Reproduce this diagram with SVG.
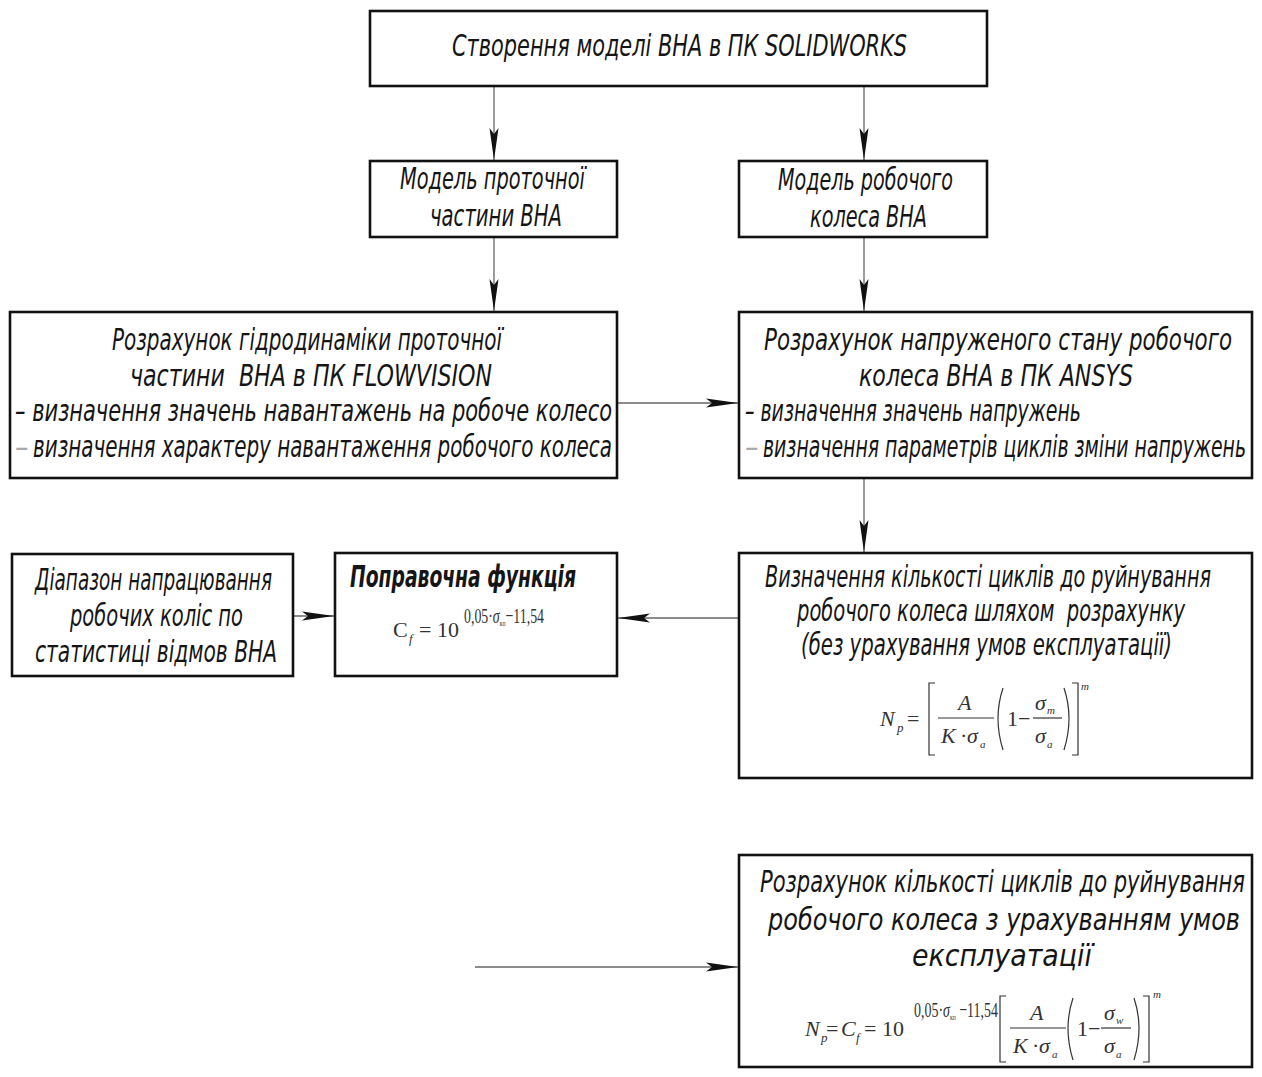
<svg xmlns="http://www.w3.org/2000/svg" width="1262" height="1077" viewBox="0 0 1262 1077">
<defs>
<style>
.box{fill:#fff;stroke:#111;stroke-width:2.6}
.con{fill:none;stroke:#666;stroke-width:1.3}
.t{font-family:"DejaVu Sans Condensed","DejaVu Sans",sans-serif;font-style:italic;font-size:30px;fill:#151515;white-space:pre}
.tb{font-weight:bold}
.f{font-family:"Liberation Serif","Times New Roman",serif;fill:#333;font-size:22px}
.fi{font-style:italic}
.fs{font-size:13px}
.fx{font-size:11px}
.fl{fill:none;stroke:#333;stroke-width:1.2}
.dim{fill:#aaa}
</style>
<marker id="ah" viewBox="-33 -6 34 12" refX="0" refY="0" markerWidth="34" markerHeight="12" markerUnits="userSpaceOnUse" orient="auto">
<path d="M0,0 L-32,-4.5 L-26,0 L-32,4.5 Z" fill="#111"/>
</marker>
</defs>

<g id="connectors">
<line class="con" x1="494" y1="86" x2="494" y2="160" marker-end="url(#ah)"/>
<line class="con" x1="864" y1="86" x2="864" y2="160" marker-end="url(#ah)"/>
<line class="con" x1="494" y1="237" x2="494" y2="311" marker-end="url(#ah)"/>
<line class="con" x1="864" y1="237" x2="864" y2="311" marker-end="url(#ah)"/>
<line class="con" x1="617" y1="403" x2="738" y2="403" marker-end="url(#ah)"/>
<line class="con" x1="864" y1="478" x2="864" y2="552" marker-end="url(#ah)"/>
<line class="con" x1="739" y1="618" x2="618" y2="618" marker-end="url(#ah)"/>
<line class="con" x1="293" y1="616" x2="334" y2="616" marker-end="url(#ah)"/>
<line class="con" x1="475" y1="967" x2="738" y2="967" marker-end="url(#ah)"/>
</g>

<g id="n1">
<rect class="box" x="370" y="11" width="617" height="75"/>
<text class="t" x="452" y="56" font-size="31" textLength="455" lengthAdjust="spacingAndGlyphs">Створення моделі ВНА в ПК SOLIDWORKS</text>
</g>

<g id="n2">
<rect class="box" x="370" y="161" width="247" height="76"/>
<text class="t" x="400" y="189" textLength="185" lengthAdjust="spacingAndGlyphs">Модель проточної</text>
<text class="t" x="430" y="226" textLength="132" lengthAdjust="spacingAndGlyphs">частини ВНА</text>
</g>

<g id="n3">
<rect class="box" x="739" y="161" width="248" height="76"/>
<text class="t" x="778" y="190" textLength="175" lengthAdjust="spacingAndGlyphs">Модель робочого</text>
<text class="t" x="810" y="227" textLength="117" lengthAdjust="spacingAndGlyphs">колеса ВНА</text>
</g>

<g id="n4">
<rect class="box" x="10" y="312" width="607" height="166"/>
<text class="t" x="112" y="350" textLength="390" lengthAdjust="spacingAndGlyphs">Розрахунок гідродинаміки проточної</text>
<text class="t" x="130" y="386" textLength="362" lengthAdjust="spacingAndGlyphs">частини  ВНА в ПК FLOWVISION</text>
<text class="t" x="15" y="421" textLength="597" lengthAdjust="spacingAndGlyphs">– визначення значень навантажень на робоче колесо</text>
<text class="t dim" x="15" y="457">–</text>
<text class="t" x="33" y="457" textLength="579" lengthAdjust="spacingAndGlyphs">визначення характеру навантаження робочого колеса</text>
</g>

<g id="n5">
<rect class="box" x="739" y="312" width="513" height="166"/>
<text class="t" x="764" y="350" textLength="468" lengthAdjust="spacingAndGlyphs">Розрахунок напруженого стану робочого</text>
<text class="t" x="859" y="386" textLength="274" lengthAdjust="spacingAndGlyphs">колеса ВНА в ПК ANSYS</text>
<text class="t" x="745" y="421" textLength="336" lengthAdjust="spacingAndGlyphs">– визначення значень напружень</text>
<text class="t dim" x="745" y="457">–</text>
<text class="t" x="763" y="457" textLength="483" lengthAdjust="spacingAndGlyphs">визначення параметрів циклів зміни напружень</text>
</g>

<g id="n6">
<rect class="box" x="739" y="553" width="513" height="225"/>
<text class="t" x="765" y="587" textLength="446" lengthAdjust="spacingAndGlyphs">Визначення кількості циклів до руйнування</text>
<text class="t" x="797" y="621" textLength="388" lengthAdjust="spacingAndGlyphs">робочого колеса шляхом  розрахунку</text>
<text class="t" x="801" y="655" textLength="371" lengthAdjust="spacingAndGlyphs">(без урахування умов експлуатації)</text>
<text class="f fi" x="880" y="726" font-size="24">N</text>
<text class="f fi fs" x="897" y="732">p</text>
<text class="f" x="907" y="726">=</text>
<path class="fl" d="M935,683 H929 V755 H935"/>
<text class="f fi" x="958" y="710">A</text>
<line class="fl" x1="938" y1="718" x2="994" y2="718"/>
<text class="f fi" x="941" y="743">K</text>
<text class="f" x="960" y="743">·</text>
<text class="f fi" x="967" y="743">σ</text>
<text class="f fi fx" x="980" y="748">a</text>
<path class="fl" d="M1003,688 Q993,718 1003,750"/>
<text class="f" x="1007" y="726">1</text>
<text class="f" x="1018" y="726">−</text>
<text class="f fi" x="1035" y="710">σ</text>
<text class="f fi fx" x="1047" y="714">m</text>
<line class="fl" x1="1033" y1="718" x2="1062" y2="718"/>
<text class="f fi" x="1035" y="743">σ</text>
<text class="f fi fx" x="1047" y="748">a</text>
<path class="fl" d="M1064,688 Q1074,718 1064,750"/>
<path class="fl" d="M1072,683 H1078 V755 H1072"/>
<text class="f fi fx" x="1081" y="690">m</text>
</g>

<g id="n7">
<rect class="box" x="335" y="553" width="282" height="123"/>
<text class="t tb" x="350" y="587" textLength="226" lengthAdjust="spacingAndGlyphs">Поправочна функція</text>
<text class="f" x="393" y="637" font-size="24">C</text>
<text class="f fi fs" x="409" y="643">f</text>
<text class="f" x="419" y="637">=</text>
<text class="f" x="437" y="637" font-size="25">10</text>
<text class="f" x="464" y="623" font-size="12" textLength="80" lengthAdjust="spacingAndGlyphs">0,05·<tspan class="fi">σ</tspan><tspan font-size="9" dy="3">кп</tspan><tspan dy="-3">−11,54</tspan></text>
</g>

<g id="n8">
<rect class="box" x="12" y="554" width="281" height="122"/>
<text class="t" x="35" y="590" textLength="237" lengthAdjust="spacingAndGlyphs">Діапазон напрацювання</text>
<text class="t" x="70" y="626" textLength="173" lengthAdjust="spacingAndGlyphs">робочих коліс по</text>
<text class="t" x="35" y="662" textLength="242" lengthAdjust="spacingAndGlyphs">статистиці відмов ВНА</text>
</g>

<g id="n9">
<rect class="box" x="739" y="855" width="513" height="212" stroke-width="2.2"/>
<text class="t" x="760" y="892" font-size="31" textLength="485" lengthAdjust="spacingAndGlyphs">Розрахунок кількості циклів до руйнування</text>
<text class="t" x="768" y="930" font-size="31" textLength="472" lengthAdjust="spacingAndGlyphs">робочого колеса з урахуванням умов</text>
<text class="t" x="912" y="966" font-size="31" textLength="180" lengthAdjust="spacingAndGlyphs">експлуатації</text>
<text class="f fi" x="805" y="1036" font-size="24">N</text>
<text class="f fi fs" x="821" y="1042">p</text>
<text class="f" x="826" y="1036">=</text>
<text class="f fi" x="841" y="1036" font-size="24">C</text>
<text class="f fi fs" x="856" y="1042">f</text>
<text class="f" x="864" y="1036">=</text>
<text class="f" x="882" y="1036" font-size="25">10</text>
<text class="f" x="914" y="1017" font-size="12" textLength="84" lengthAdjust="spacingAndGlyphs">0,05·<tspan class="fi">σ</tspan><tspan font-size="9" dy="3">кп</tspan><tspan dy="-3"> −11,54</tspan></text>
<path class="fl" d="M1006,996 H1000 V1062 H1006"/>
<text class="f fi" x="1030" y="1020">A</text>
<line class="fl" x1="1010" y1="1028" x2="1066" y2="1028"/>
<text class="f fi" x="1013" y="1053">K</text>
<text class="f" x="1032" y="1053">·</text>
<text class="f fi" x="1039" y="1053">σ</text>
<text class="f fi fx" x="1052" y="1058">a</text>
<path class="fl" d="M1073,998 Q1063,1028 1073,1060"/>
<text class="f" x="1077" y="1036">1</text>
<text class="f" x="1088" y="1036">−</text>
<text class="f fi" x="1104" y="1020">σ</text>
<text class="f fi fx" x="1116" y="1024">w</text>
<line class="fl" x1="1101" y1="1028" x2="1131" y2="1028"/>
<text class="f fi" x="1104" y="1053">σ</text>
<text class="f fi fx" x="1116" y="1058">a</text>
<path class="fl" d="M1134,998 Q1144,1028 1134,1060"/>
<path class="fl" d="M1143,996 H1149 V1062 H1143"/>
<text class="f fi fx" x="1153" y="998">m</text>
</g>
</svg>
